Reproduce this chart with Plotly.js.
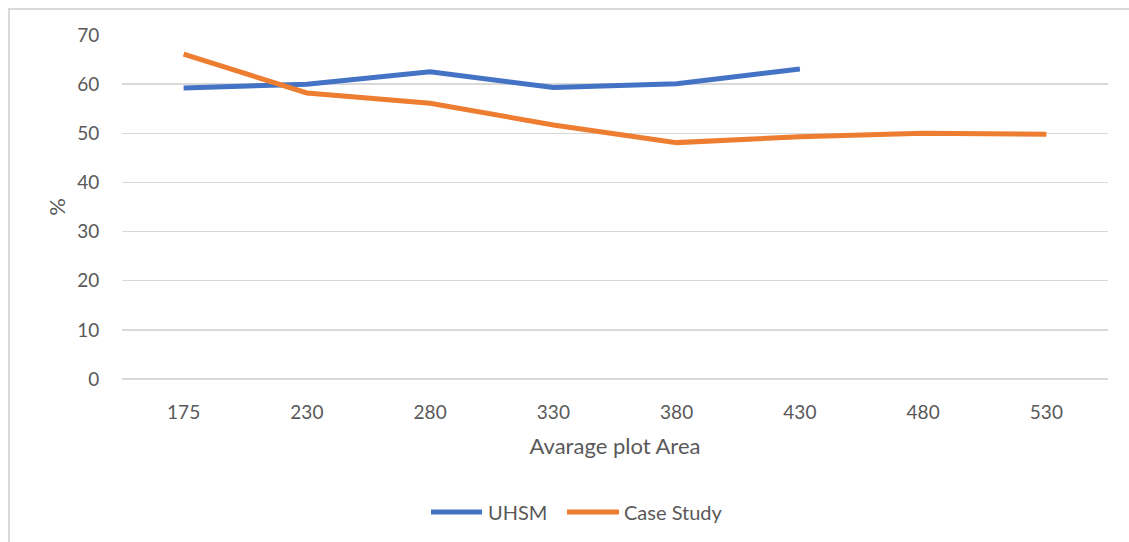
<!DOCTYPE html>
<html>
<head>
<meta charset="utf-8">
<script src="https://cdn.plot.ly/plotly-3.0.1.min.js"></script>
<style>
  html, body { margin: 0; padding: 0; background: #fff; }
  #wrap { position: relative; width: 1129px; height: 542px; overflow: hidden; }
  #frame { position: absolute; left: 8px; top: 8px; width: 1200px; height: 600px;
           border-left: 2px solid #d9d9d9; border-top: 2px solid #d9d9d9; pointer-events: none; }
  #chart { position: absolute; left: 0; top: 0; width: 1129px; height: 542px; }
</style>
</head>
<body>
<div id="wrap">
  <div id="chart"></div>
  <div id="frame"></div>
</div>
<script>
const categories = ["175", "230", "280", "330", "380", "430", "480", "530"];
const uhsm = [59.2, 60.0, 62.5, 59.3, 60.1, 63.1, null, null];
const caseStudy = [66.1, 58.2, 56.1, 51.7, 48.1, 49.3, 50.0, 49.8];
const yTicks = [0, 10, 20, 30, 40, 50, 60, 70];
const seriesNames = ["UHSM", "Case Study"];
const seriesColors = ["#4472C4", "#ED7D31"];

const FONT = "Lato, 'Open Sans', sans-serif";
const TXT = "#595959";

const W = 1129, H = 542;
const M = { l: 122, r: 21, t: 35, b: 163 };
const PW = W - M.l - M.r, PH = H - M.t - M.b;
const px2x = px => (px - M.l) / PW;
const py2y = py => (H - M.b - py) / PH;

const traces = [
  { x: categories, y: uhsm, name: seriesNames[0], type: "scatter", mode: "lines",
    line: { color: seriesColors[0], width: 5 }, connectgaps: false, showlegend: false },
  { x: categories, y: caseStudy, name: seriesNames[1], type: "scatter", mode: "lines",
    line: { color: seriesColors[1], width: 5 }, showlegend: false }
];

// custom legend (longer line samples like the original)
const legendItems = [
  { x0: 431, x1: 482, tx: 486 },
  { x0: 567, x1: 619, tx: 622 }
];
const shapes = legendItems.map((it, i) => ({
  type: "line", xref: "paper", yref: "paper",
  x0: px2x(it.x0), x1: px2x(it.x1), y0: py2y(512), y1: py2y(512),
  line: { color: seriesColors[i], width: 5 }, layer: "above"
}));
const annotations = legendItems.map((it, i) => ({
  xref: "paper", yref: "paper", x: px2x(it.tx), y: py2y(512),
  xanchor: "left", yanchor: "middle", showarrow: false,
  text: seriesNames[i], font: { size: 20, color: TXT, family: FONT }
}));

const layout = {
  width: W, height: H,
  margin: M,
  paper_bgcolor: "rgba(0,0,0,0)", plot_bgcolor: "#fff",
  font: { family: FONT, color: TXT, size: 19 },
  showlegend: false,
  shapes: shapes,
  annotations: annotations,
  xaxis: { type: "category", categoryorder: "array", categoryarray: categories,
           range: [-0.5, categories.length - 0.5], automargin: false,
           showgrid: false, zeroline: false, showline: false,
           ticks: "outside", ticklen: 16, tickcolor: "rgba(0,0,0,0)",
           tickfont: { size: 19, color: TXT },
           title: { text: "Avarage plot Area", font: { size: 22, color: TXT }, standoff: 16 },
           fixedrange: true },
  yaxis: { range: [0, 70], tickvals: yTicks, ticktext: yTicks.map(String), automargin: false,
           showgrid: true, gridcolor: "#d9d9d9", gridwidth: 1.5,
           zeroline: true, zerolinecolor: "#d9d9d9", zerolinewidth: 1.5, showline: false,
           ticks: "outside", ticklen: 18, tickcolor: "rgba(0,0,0,0)",
           tickfont: { size: 19, color: TXT },
           title: { text: "%", font: { size: 22, color: TXT }, standoff: 5 },
           fixedrange: true }
};

Plotly.newPlot("chart", traces, layout, { displayModeBar: false, staticPlot: true });
</script>
</body>
</html>
